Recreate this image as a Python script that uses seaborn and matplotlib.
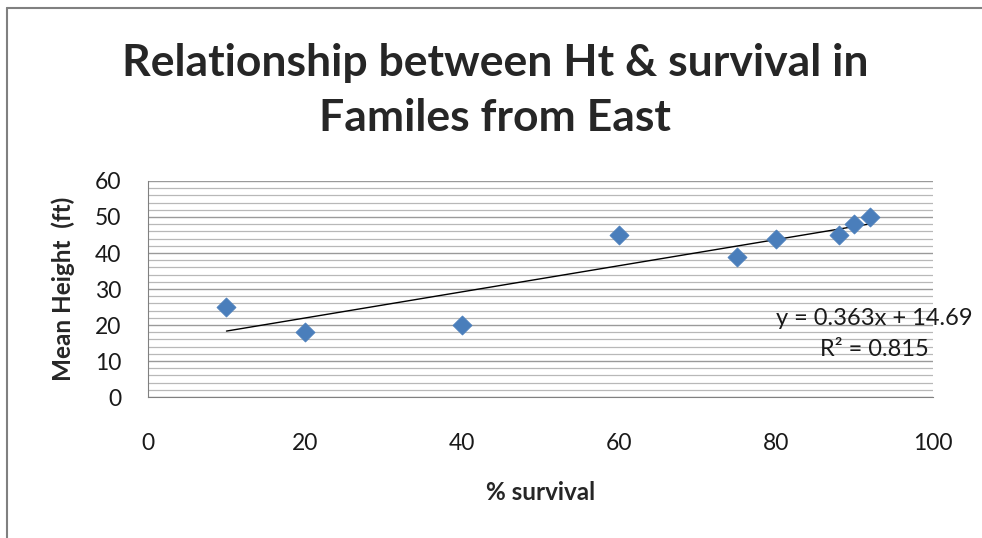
import numpy as np
import pandas as pd
import matplotlib
matplotlib.use("Agg")
import matplotlib.pyplot as plt
import seaborn as sns
from matplotlib.ticker import MultipleLocator

# Family survival (%) and mean height (ft)
survival = [10, 20, 40, 60, 75, 80, 88, 90, 92]
mean_height = [25, 18, 20, 45, 39, 44, 45, 48, 50]

# Linear trendline coefficients
slope = 0.363
intercept = 14.69
r_squared = 0.815

title_text = "Relationship between Ht & survival in\nFamiles from East"
x_label = "% survival"
y_label = "Mean Height  (ft)"
x_ticks = [0, 20, 40, 60, 80, 100]
y_ticks = [0, 10, 20, 30, 40, 50, 60]

df = pd.DataFrame({"survival": survival, "height": mean_height})

sns.set_style("white")
plt.rcParams["font.family"] = ["Lato", "DejaVu Sans"]

fig = plt.figure(figsize=(9.82, 5.38), dpi=100)
ax = fig.add_axes([0.1507, 0.262, 0.7993, 0.4016])

# Grid: major every 10, minor every 2
ax.yaxis.set_major_locator(MultipleLocator(10))
ax.yaxis.set_minor_locator(MultipleLocator(2))
ax.grid(which="major", axis="y", color="#9a9a9a", linewidth=1.0)
ax.grid(which="minor", axis="y", color="#b8b8b8", linewidth=0.9)
ax.set_axisbelow(True)

# Trendline across the data range
xs = np.array([min(survival), max(survival)])
ax.plot(xs, slope * xs + intercept, color="black", linewidth=1.0, zorder=2)

sns.scatterplot(data=df, x="survival", y="height", marker="D", s=95,
                color="#4a7ebb", edgecolor="#4a7ebb", linewidth=0.5,
                ax=ax, zorder=3, legend=False)

ax.set_xlim(0, 100)
ax.set_ylim(0, 60)
ax.set_xticks(x_ticks)
ax.set_yticks(y_ticks)
ax.tick_params(axis="y", which="major", direction="out", length=8, width=1,
               color="#808080", pad=11, labelsize=16.5, labelcolor="#1a1a1a")
ax.tick_params(axis="y", which="minor", length=0)
ax.tick_params(axis="x", which="major", direction="out", length=8, width=1,
               color="#808080", pad=18, labelsize=16.5, labelcolor="#1a1a1a")

for side in ["top", "right"]:
    ax.spines[side].set_visible(False)
ax.spines["left"].set_color("#808080")
ax.spines["bottom"].set_color("#808080")

ax.set_xlabel(x_label, fontsize=17.5, fontweight="bold")
ax.set_ylabel(y_label, fontsize=17.5, fontweight="bold")
ax.xaxis.set_label_coords(0.5, -0.44)
ax.yaxis.set_label_coords(-0.108, 0.5)
ax.xaxis.label.set_va("center")
ax.yaxis.label.set_va("center")

# Trendline equation
ax.text(0.925, 0.292, f"y = {slope}x + {intercept}\nR² = {r_squared}",
        transform=ax.transAxes, ha="center", va="center", fontsize=17,
        linespacing=1.55, color="#1a1a1a")

fig.text(0.504, 0.831, title_text, ha="center", va="center", fontsize=32,
         fontweight="bold", linespacing=1.45)

# Outer chart border (left and top)
fig.add_artist(plt.Line2D([0.007, 0.007], [0, 0.985], color="#808080",
                          linewidth=1.5, transform=fig.transFigure))
fig.add_artist(plt.Line2D([0.007, 1.0], [0.985, 0.985], color="#808080",
                          linewidth=1.5, transform=fig.transFigure))

fig.savefig("out.png", dpi=100)
